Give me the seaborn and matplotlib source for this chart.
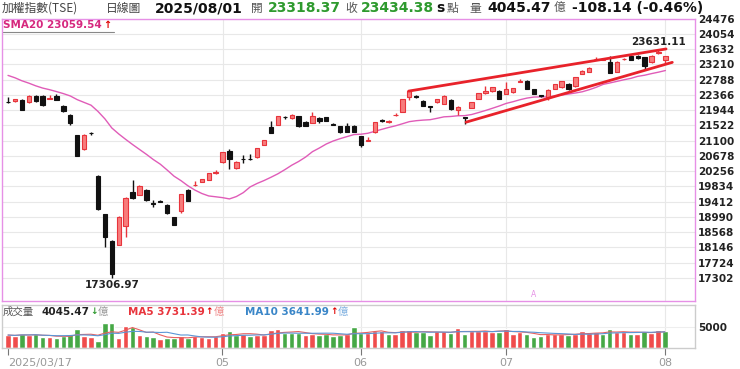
import numpy as np
import pandas as pd
import matplotlib
matplotlib.use("Agg")
import matplotlib.pyplot as plt
from matplotlib.lines import Line2D
import seaborn as sns

# TAIEX daily candles, 2025/03/17 .. 2025/08/01 (96 trading days)
opens = [
    22170, 22186, 22233, 22160, 22344, 22344, 22260, 22324, 22067, 21818,
    21255, 20868, 21300, 20129, 19068, 18329, 18218, 18725, 19676, 19594,
    19732, 19370, 19425, 19318, 18973, 19140, 19732, 19860, 19963, 20010,
    20215, 20497, 20820, 20331, 20595, 20595, 20636, 20979, 21466, 21532,
    21750, 21716, 21771, 21624, 21587, 21716, 21743, 21548, 21494, 21513,
    21513, 21236, 21095, 21327, 21660, 21620, 21805, 21901, 22316, 22344,
    22205, 22045, 22160, 22114, 22224, 21947, 21730, 22003, 22260, 22408,
    22463, 22482, 22391, 22436, 22735, 22759, 22529, 22363, 22297, 22529,
    22574, 22667, 22602, 22945, 23008, 23350, 23335, 23285, 23008, 23352,
    23433, 23451, 23405, 23266, 23535, 23318.37]
highs = [
    22300, 22260, 22250, 22350, 22360, 22350, 22370, 22380, 22080, 21830,
    21260, 21270, 21340, 20140, 19080, 18340, 19000, 19540, 20010, 19870,
    19760, 19455, 19460, 19330, 18990, 19630, 19760, 19990, 20045, 20210,
    20290, 20790, 20860, 20525, 20700, 20720, 20895, 21125, 21652, 21780,
    21790, 21830, 21780, 21640, 21882, 21760, 21760, 21600, 21510, 21580,
    21530, 21240, 21200, 21610, 21700, 21660, 21850, 22260, 22490, 22360,
    22220, 22060, 22260, 22350, 22240, 22050, 21760, 22170, 22425, 22600,
    22580, 22500, 22723, 22565, 22800, 22770, 22540, 22375, 22515, 22675,
    22750, 22700, 22860, 23045, 23130, 23420, 23400, 23440, 23295, 23390,
    23450, 23470, 23420, 23460, 23631.11, 23440]
lows = [
    22150, 22180, 21940, 22150, 22170, 22070, 22250, 22220, 21900, 21520,
    20660, 20850, 21260, 19190, 18143, 17306.97, 18210, 18420, 19480, 19580,
    19440, 19270, 19390, 19070, 18750, 19100, 19420, 19855, 19955, 20000,
    20180, 20490, 20300, 20320, 20480, 20570, 20630, 20970, 21300, 21525,
    21700, 21710, 21480, 21500, 21580, 21600, 21640, 21530, 21320, 21340,
    21330, 20912, 21090, 21320, 21620, 21600, 21770, 21890, 22230, 22280,
    22050, 21900, 22150, 22100, 21960, 21796, 21550, 21990, 22250, 22400,
    22455, 22240, 22380, 22430, 22720, 22520, 22380, 22310, 22230, 22520,
    22565, 22500, 22590, 22935, 23000, 23330, 23320, 22960, 23000, 23340,
    23330, 23370, 23080, 23260, 23500, 23250]
closes = [
    22160, 22252, 21956, 22344, 22186, 22086, 22275, 22233, 21928, 21577,
    20683, 21255, 21298, 19206, 18422, 17392, 18976, 19511, 19500, 19852,
    19455, 19355, 19410, 19085, 18763, 19622, 19436, 19875, 20037, 20203,
    20225, 20775, 20590, 20516, 20585, 20580, 20886, 21117, 21310, 21771,
    21740, 21818, 21494, 21513, 21771, 21652, 21652, 21541, 21329, 21347,
    21340, 20979, 21105, 21605, 21652, 21628, 21812, 22252, 22482, 22297,
    22067, 22039, 22252, 22344, 21975, 22039, 21725, 22160, 22418, 22482,
    22574, 22252, 22529, 22556, 22745, 22529, 22391, 22325, 22510, 22667,
    22740, 22529, 22851, 23037, 23111, 23360, 23345, 22972, 23285, 23362,
    23341, 23377, 23155, 23451, 23542.52, 23434.38]

# closes before 03/17, only used so the SMA20 starts on the first day
warmup_closes = [23560, 23620, 23650, 23670, 23330, 23180, 23280, 23050, 22880, 22720,
                 22800, 22830, 22650, 22530, 22440, 22300, 22500, 22370, 22570]

# turnover (億), bar colour r = up, g = down
volumes = [
    3100, 2940, 3350, 3100, 3350, 2530, 2700, 2450, 2940, 3350,
    4575, 2940, 2700, 1715, 5960, 6130, 2290, 5400, 4980, 3100,
    2940, 2700, 2040, 2290, 2450, 2860, 2450, 2940, 2700, 2450,
    2860, 3680, 4085, 3100, 3350, 2940, 3100, 3100, 4330, 4575,
    3680, 3510, 3680, 3100, 3270, 3100, 3270, 2940, 3100, 3270,
    4980, 3680, 3680, 4170, 4085, 3270, 3270, 4330, 4330, 3760,
    3920, 3100, 4085, 4085, 3680, 4740, 3270, 4170, 4170, 4170,
    3920, 3920, 4490, 3270, 3760, 3350, 2700, 2940, 3350, 3350,
    3350, 3100, 3270, 4085, 3510, 3920, 3350, 4490, 3920, 3920,
    3450, 3350, 4085, 3700, 4330, 4045.47]
vol_dir = ("rrgrggrggg" "grrgggrrgr" "ggrggrgrrr" "rrggrgrrrr" "gggrrggggr"
           "ggrrrgrrrg" "ggrrgrgrrr" "rgrrrgggrr" "rgrrrrggrr" "grgrrg")

# rising wedge drawn on the chart (day index, price)
upper_x = [57.9, 95.1]
upper_y = [22470, 23637]
lower_x = [66.2, 96.0]
lower_y = [21610, 23266]

yticks = [17302, 17724, 18146, 18568, 18990, 19412, 19834, 20256, 20678,
          21100, 21522, 21944, 22366, 22788, 23210, 23632, 24054, 24476]
month_idx = [0, 31, 51, 72, 95]
month_labels = ["2025/03/17", "05", "06", "07", "08"]

sns.set_style("white")
plt.rcParams['font.family'] = ['DejaVu Sans', 'Noto Sans CJK TC']
CJK = ['Noto Sans CJK TC', 'DejaVu Sans']

df = pd.DataFrame({'open': opens, 'high': highs, 'low': lows, 'close': closes,
                   'vol': volumes})
df['i'] = np.arange(len(df))
full = pd.Series(warmup_closes + closes)
df['sma20'] = full.rolling(20).mean().iloc[len(warmup_closes):].values
df['ma5'] = df['vol'].rolling(5, min_periods=1).mean()
df['ma10'] = df['vol'].rolling(10, min_periods=1).mean()

RED_FILL, RED_EDGE, BLACK = '#f77c7c', '#e8343c', '#111111'
W, H = 740, 369

fig = plt.figure(figsize=(7.4, 3.69), dpi=100)
fig.patch.set_facecolor('white')
ax = fig.add_axes([1.5 / W, 1 - 301 / H, 693.5 / W, 282.5 / H])
axv = fig.add_axes([1.5 / W, 1 - 348.3 / H, 693 / W, 43.3 / H])

# --- price panel
ax.set_xlim(-0.94, 99.28)
ax.set_ylim(16658, 24480)
for y in yticks:
    ax.axhline(y, color='#e8e8e8', lw=0.8, zorder=0)
for m in month_idx[1:]:
    ax.axvline(m, color='#e8e8e8', lw=0.8, zorder=0)
    axv.axvline(m, color='#e8e8e8', lw=0.8, zorder=0)

up = df['close'] >= df['open']
edge = np.where(up, RED_EDGE, BLACK)
fill = np.where(up, RED_FILL, BLACK)
body_lo = np.minimum(df['open'], df['close'])
body_h = np.maximum((df['close'] - df['open']).abs(), 14)
ax.vlines(df['i'], df['low'], df['high'], colors=edge, lw=1, zorder=2)
ax.bar(df['i'], body_h, bottom=body_lo, width=0.62, color=fill,
       edgecolor=edge, linewidth=0.8, zorder=3)

sns.lineplot(x=df['i'], y=df['sma20'], ax=ax, color='#e05cb8', lw=1, zorder=1)
sns.lineplot(x=upper_x, y=upper_y, ax=ax, color='#e8222a', lw=2, zorder=4)
sns.lineplot(x=lower_x, y=lower_y, ax=ax, color='#e8222a', lw=2, zorder=4)

ax.yaxis.tick_right()
ax.set_yticks(yticks)
ax.set_yticklabels([str(v) for v in yticks], fontweight='bold')
ax.tick_params(axis='y', length=0, pad=2, labelsize=7.5, labelcolor='#222222')
ax.tick_params(axis='x', length=0, labelbottom=False)
ax.set_xlabel('')
ax.set_ylabel('')
for s in ax.spines.values():
    s.set_color('#e690e6')
    s.set_linewidth(1)

lo_i = int(np.argmin(lows))
hi_i = int(np.argmax(highs))
ax.annotate(f"{lows[lo_i]:.2f}", (lo_i, lows[lo_i]), xytext=(0, -1.5),
            textcoords='offset points', ha='center', va='top',
            fontsize=7.5, fontweight='bold', color='#222222')
ax.annotate(f"{highs[hi_i]:.2f}", (hi_i, highs[hi_i]), xytext=(0, 1.5),
            textcoords='offset points', ha='center', va='bottom',
            fontsize=7.5, fontweight='bold', color='#222222')
ax.text(76, 16700, "A", ha='center', va='bottom', fontsize=5.5, color='#e690e6')

# --- volume panel
vcol = ['#f04c4c' if d == 'r' else '#46a846' for d in vol_dir]
axv.bar(df['i'], df['vol'], width=0.8, color=vcol, zorder=2)
sns.lineplot(x=df['i'], y=df['ma5'], ax=axv, color='#e86060', lw=0.8, zorder=3)
sns.lineplot(x=df['i'], y=df['ma10'], ax=axv, color='#5b96d6', lw=0.8, zorder=3)
axv.set_xlim(-0.94, 99.28)
axv.set_ylim(-147, 10460)
axv.axhline(5000, color='#eeeeee', lw=0.8, zorder=0)
axv.yaxis.tick_right()
axv.set_yticks([5000])
axv.set_yticklabels(['5000'], fontweight='bold')
axv.tick_params(axis='y', length=0, pad=3, labelsize=7.5, labelcolor='#222222')
axv.set_xticks(month_idx)
axv.set_xticklabels(month_labels)
axv.tick_params(axis='x', bottom=True, length=5, width=0.8, color='#777777',
                pad=2, labelsize=8, labelcolor='#999999')
axv.get_xticklabels()[0].set_ha('left')
axv.set_xlabel('')
axv.set_ylabel('')
for s in axv.spines.values():
    s.set_color('#cccccc')
    s.set_linewidth(1)

renderer = fig.canvas.get_renderer()


def ftext(x, y, s, **kw):
    return fig.text(x / W, 1 - y / H, s, va='center', ha='left', **kw)


def chain(x, y, parts):
    # lay out pieces left to right; each piece = (text, gap before in px, style)
    for s, gap, kw in parts:
        t = ftext(x + gap, y, s, **kw)
        x = t.get_window_extent(renderer).x1


# header line
GREEN = '#2e9a2e'
ftext(2, 8.5, "加權指數(TSE)", fontsize=8.5, color='#444444', family=CJK)
ftext(106, 8.5, "日線圖", fontsize=8.5, color='#444444', family=CJK)
ftext(155, 8.5, "2025/08/01", fontsize=10, fontweight='bold', color='#111111')
ftext(251, 8.5, "開", fontsize=8.5, color='#555555', family=CJK)
ftext(268, 8.5, "23318.37", fontsize=10, fontweight='bold', color=GREEN)
ftext(345, 8.5, "收", fontsize=8.5, color='#555555', family=CJK)
ftext(361, 8.5, "23434.38", fontsize=10, fontweight='bold', color=GREEN)
ftext(436, 8.5, "s", fontsize=10, fontweight='bold', color='#111111')
ftext(447, 8.5, "點", fontsize=8.5, color='#555555', family=CJK)
ftext(469, 8.5, "量", fontsize=8.5, color='#555555', family=CJK)
ftext(487, 8.5, "4045.47", fontsize=10, fontweight='bold', color='#111111')
ftext(554, 8.5, "億", fontsize=8.5, color='#555555', family=CJK)
ftext(572, 8.5, "-108.14 (-0.46%)", fontsize=10, fontweight='bold', color='#111111')

# SMA legend
chain(3, 25.5, [("SMA20 23059.54", 0, dict(fontsize=7.5, fontweight='bold', color='#d6287e')),
                ("↑", 1, dict(fontsize=7, fontweight='bold', color='#e00000'))])
fig.add_artist(Line2D([3 / W, 114 / W], [1 - 31.5 / H, 1 - 31.5 / H],
                      color='#888888', lw=0.8, transform=fig.transFigure))

# volume legend
chain(3, 312, [("成交量", 0, dict(fontsize=7.5, color='#555555', family=CJK)),
               ("4045.47", 7, dict(fontsize=7.5, fontweight='bold', color='#222222')),
               ("↓", 1, dict(fontsize=6.5, fontweight='bold', color='#2e9a2e')),
               ("億", 0.5, dict(fontsize=7.5, color='#999999', family=CJK))])
chain(128, 312, [("MA5 3731.39", 0, dict(fontsize=7.5, fontweight='bold', color='#e8343c')),
                 ("↑", 1, dict(fontsize=6.5, fontweight='bold', color='#e00000')),
                 ("億", 0.5, dict(fontsize=7.5, color='#f08a8a', family=CJK))])
chain(245, 312, [("MA10 3641.99", 0, dict(fontsize=7.5, fontweight='bold', color='#3a86c8')),
                 ("↑", 1, dict(fontsize=6.5, fontweight='bold', color='#e00000')),
                 ("億", 0.5, dict(fontsize=7.5, color='#7fb0e0', family=CJK))])

fig.savefig("out.png", dpi=100, facecolor='white')
